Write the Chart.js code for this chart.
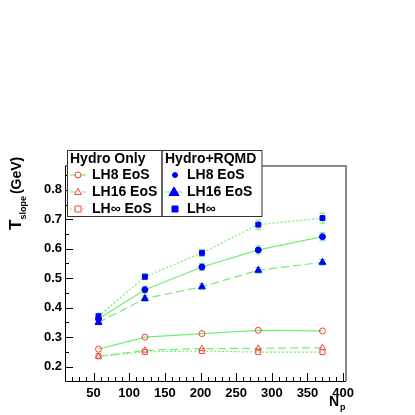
<!DOCTYPE html>
<html>
<head>
<meta charset="utf-8">
<script src="https://cdn.jsdelivr.net/npm/chart.js@4"></script>
<style>
  html, body { margin: 0; padding: 0; background: #fff; }
  #wrap { width: 415px; height: 415px; }
</style>
</head>
<body>
<div id="wrap"><canvas id="c" width="415" height="415"></canvas></div>
<script>
// participants
const npart = [57, 122, 202, 281, 371];

// Hydro only
const hydroLH8 = [0.259, 0.300, 0.312, 0.323, 0.321];
const hydroLH16 = [0.234, 0.255, 0.261, 0.262, 0.264];
const hydroLHinf = [0.235, 0.250, 0.253, 0.249, 0.249];

// Hydro + RQMD
const rqmdLH8 = [0.362, 0.461, 0.538, 0.596, 0.641];
const rqmdLH16 = [0.350, 0.431, 0.471, 0.527, 0.554];
const rqmdLHinf = [0.371, 0.505, 0.586, 0.682, 0.704];
const rqmdLH8Err = [0.010, 0.012, 0.012, 0.014, 0.014];
const rqmdLH16Err = [0.008, 0.010, 0.010, 0.010, 0.010];
const rqmdLHinfErr = [0.010, 0.010, 0.012, 0.016, 0.017];

const xTicks = [50, 100, 150, 200, 250, 300, 350, 400];
const yTicks = [0.2, 0.3, 0.4, 0.5, 0.6, 0.7, 0.8];

const GREEN = '#72ee72';
const RED = '#ff3c3c';
const BLUE = '#0000ff';
const FONT = '"Liberation Sans", Arial, sans-serif';

function pts(ys) { return npart.map((x, i) => ({x: x, y: ys[i]})); }

function series(label, ys, dash, style, radius, color, filled, errs) {
    return {
        label: label,
        data: pts(ys),
        errs: errs,
        borderColor: GREEN,
        borderWidth: 1.2,
        borderDash: dash,
        pointStyle: style,
        pointRadius: radius,
        pointHoverRadius: radius,
        pointBorderColor: color,
        pointBackgroundColor: filled ? color : 'rgba(0,0,0,0)',
        pointBorderWidth: 1,
        tension: 0
    };
}

const datasets = [
    series('Hydro LH8', hydroLH8, [], 'circle', 3, RED, false),
    series('Hydro LH16', hydroLH16, [8, 4], 'triangle', 3.5, RED, false),
    series('Hydro LHinf', hydroLHinf, [2, 2], 'rect', 3.5, RED, false),
    series('RQMD LH8', rqmdLH8, [], 'circle', 3, BLUE, true, rqmdLH8Err),
    series('RQMD LH16', rqmdLH16, [8, 4], 'triangle', 4, BLUE, true, rqmdLH16Err),
    series('RQMD LHinf', rqmdLHinf, [2, 2], 'rect', 3.5, BLUE, true, rqmdLHinfErr)
];

// error bars, drawn under the markers
const errorBars = {
    id: 'errorBars',
    beforeDatasetsDraw(chart) {
        const ctx = chart.ctx, xs = chart.scales.x, ys = chart.scales.y;
        ctx.save();
        ctx.strokeStyle = GREEN;
        ctx.lineWidth = 1;
        chart.data.datasets.forEach(ds => {
            if (!ds.errs) return;
            ds.data.forEach((p, i) => {
                const px = xs.getPixelForValue(p.x);
                const top = ys.getPixelForValue(p.y + ds.errs[i]);
                const bot = ys.getPixelForValue(p.y - ds.errs[i]);
                ctx.beginPath();
                ctx.moveTo(px, top); ctx.lineTo(px, bot);
                ctx.moveTo(px - 3, top); ctx.lineTo(px + 3, top);
                ctx.moveTo(px - 3, bot); ctx.lineTo(px + 3, bot);
                ctx.stroke();
            });
        });
        ctx.restore();
    }
};

// frame, inward ticks, axis titles and the two-box legend
const decor = {
    id: 'decor',
    afterDraw(chart) {
        const ctx = chart.ctx, a = chart.chartArea;
        const xs = chart.scales.x, ys = chart.scales.y;
        ctx.save();
        // grey top/right frame
        ctx.strokeStyle = '#8a8a8a';
        ctx.lineWidth = 2;
        ctx.beginPath();
        ctx.moveTo(a.left, a.top); ctx.lineTo(a.right, a.top); ctx.lineTo(a.right, a.bottom);
        ctx.stroke();
        // black axes
        ctx.strokeStyle = '#000';
        ctx.lineWidth = 1;
        ctx.beginPath();
        ctx.moveTo(a.left + 0.5, a.top); ctx.lineTo(a.left + 0.5, a.bottom + 0.5); ctx.lineTo(a.right, a.bottom + 0.5);
        ctx.stroke();
        // x ticks
        ctx.beginPath();
        for (let v = 10; v <= 400; v += 10) {
            const px = Math.round(xs.getPixelForValue(v)) + 0.5;
            const len = v % 50 === 0 ? 8 : 4;
            ctx.moveTo(px, a.bottom); ctx.lineTo(px, a.bottom - len);
        }
        // y ticks
        for (let k = 3; k <= 17; k++) {
            const v = k * 0.05;
            const py = Math.round(ys.getPixelForValue(v)) + 0.5;
            if (py < a.top || py > a.bottom) continue;
            const len = k % 2 === 0 ? 8 : 4;
            ctx.moveTo(a.left, py); ctx.lineTo(a.left + len, py);
        }
        ctx.stroke();

        // x title N_p
        ctx.fillStyle = '#000';
        ctx.textBaseline = 'alphabetic';
        ctx.textAlign = 'left';
        ctx.font = 'bold 14px ' + FONT;
        ctx.fillText('N', 329, 406);
        ctx.font = 'bold 9px ' + FONT;
        ctx.fillText('p', 340, 410);

        // y title T_slope (GeV)
        ctx.save();
        ctx.translate(21, 230);
        ctx.rotate(-Math.PI / 2);
        ctx.font = 'bold 17px ' + FONT;
        ctx.fillText('T', 0, 0);
        let w = ctx.measureText('T').width;
        ctx.font = 'bold 9px ' + FONT;
        ctx.fillText('slope', w, 5);
        w += ctx.measureText('slope').width + 2;
        ctx.font = 'bold 14px ' + FONT;
        ctx.fillText('(GeV)', w, 0);
        ctx.restore();

        // legend boxes
        ctx.fillStyle = '#fff';
        ctx.fillRect(67, 150, 195, 67);
        ctx.strokeStyle = '#333';
        ctx.lineWidth = 1;
        ctx.strokeRect(67.5, 150.5, 94.5, 66);
        ctx.strokeRect(162, 150.5, 100, 66);

        const rows = [175, 192, 209];
        function entry(x0, x1, sx, y, dash, style, r, color, filled, line) {
            if (line) {
                ctx.save();
                ctx.strokeStyle = GREEN;
                ctx.lineWidth = 1.2;
                ctx.setLineDash(dash);
                ctx.beginPath();
                ctx.moveTo(x0, y); ctx.lineTo(x1, y);
                ctx.stroke();
                ctx.restore();
            }
            ctx.save();
            ctx.strokeStyle = color;
            ctx.fillStyle = filled ? color : '#fff';
            ctx.lineWidth = 1;
            ctx.beginPath();
            if (style === 'circle') ctx.arc(sx, y, r, 0, Math.PI * 2);
            else if (style === 'triangle') {
                ctx.moveTo(sx, y - r); ctx.lineTo(sx + r, y + r * 0.7); ctx.lineTo(sx - r, y + r * 0.7); ctx.closePath();
            } else ctx.rect(sx - r, y - r, 2 * r, 2 * r);
            ctx.fill();
            ctx.stroke();
            ctx.restore();
        }
        entry(70, 86, 78, rows[0], [], 'circle', 3, RED, false, true);
        entry(70, 86, 78, rows[1], [8, 4], 'triangle', 3.5, RED, false, true);
        entry(70, 86, 78, rows[2], [2, 2], 'rect', 3, RED, false, true);
        entry(165, 182, 175, rows[0], [], 'circle', 2.5, BLUE, true, false);
        entry(165, 182, 174, rows[1], [8, 4], 'triangle', 5, BLUE, true, true);
        entry(165, 182, 175, rows[2], [2, 2], 'rect', 3, BLUE, true, false);

        ctx.fillStyle = '#000';
        ctx.textBaseline = 'middle';
        ctx.font = 'bold 14px ' + FONT;
        ctx.fillText('Hydro Only', 70, 159);
        ctx.fillText('Hydro+RQMD', 165, 159);
        ctx.fillText('LH8 EoS', 92, rows[0]);
        ctx.fillText('LH16 EoS', 92, rows[1]);
        ctx.fillText('LH\u221E EoS', 92, rows[2]);
        ctx.fillText('LH8 EoS', 187, rows[0]);
        ctx.fillText('LH16 EoS', 187, rows[1]);
        ctx.fillText('LH\u221E', 187, rows[2]);
        ctx.restore();
    }
};

new Chart(document.getElementById('c'), {
    type: 'line',
    data: { datasets: datasets },
    options: {
        responsive: false,
        animation: false,
        layout: { padding: { left: 0, top: 166, right: 69, bottom: 0 } },
        plugins: { legend: { display: false }, tooltip: { enabled: false } },
        scales: {
            x: {
                type: 'linear',
                min: 10,
                max: 404,
                afterBuildTicks: s => { s.ticks = xTicks.map(v => ({value: v})); },
                afterFit: s => { s.height = 34; },
                grid: { display: false, drawTicks: false },
                border: { display: false },
                ticks: { color: '#000', padding: 5, maxRotation: 0, font: { family: FONT, size: 13, weight: 'bold' } }
            },
            y: {
                type: 'linear',
                min: 0.151,
                max: 0.881,
                afterBuildTicks: s => { s.ticks = yTicks.map(v => ({value: v})); },
                afterFit: s => { s.width = 65; },
                grid: { display: false, drawTicks: false },
                border: { display: false },
                ticks: { color: '#000', padding: 3, callback: v => v.toFixed(1), font: { family: FONT, size: 13, weight: 'bold' } }
            }
        }
    },
    plugins: [errorBars, decor]
});
</script>
</body>
</html>
